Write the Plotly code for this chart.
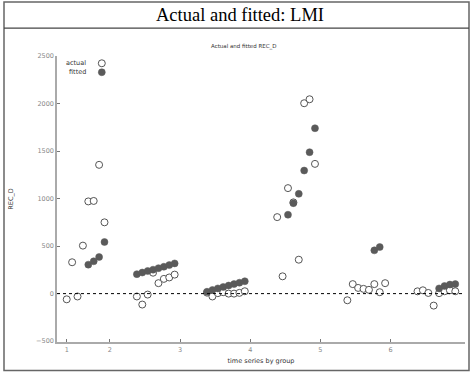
import plotly.graph_objects as go

# ---- data (8 observed periods per group, periods 6..13 of 13) ----
groups = [1, 2, 3, 4, 5, 6]
periods = [6, 7, 8, 9, 10, 11, 12, 13]
period_count = 13

actual = {
    1: [-60, 330, -30, 505, 970, 975, 1355, 750],
    2: [-30, -115, -10, 220, 110, 155, 170, 200],
    3: [10, -30, 5, 15, 0, 0, 8, 25],
    4: [805, 182, 1110, 960, 357, 2003, 2045, 1365],
    5: [-70, 100, 60, 50, 40, 100, 15, 110],
    6: [24, 35, 7, -126, 5, 25, 35, 25],
}
fitted = {
    1: [None, None, None, None, 305, 340, 385, 543],
    2: [205, 222, 238, 252, 268, 283, 300, 318],
    3: [20, 38, 55, 70, 85, 100, 115, 130],
    4: [None, None, 830, 952, 1050, 1295, 1488, 1740],
    5: [None, None, None, None, None, 455, 490, None],
    6: [None, None, None, None, 55, 80, 95, 100],
}
tick_labels = ["1", "2", "3", "4", "5", "6"]
y_ticks = [-500, 0, 500, 1000, 1500, 2000, 2500]

# observation numbers
xs, ya, yf = [], [], []
for g in groups:
    for k, p in enumerate(periods):
        xs.append((g - 1) * period_count + p)
        ya.append(actual[g][k])
        yf.append(fitted[g][k])
tick_vals = [periods[0]] + [(g - 1) * period_count + 1 for g in groups[1:]]

W, H = 473, 376
L, R, T, B = 57, 8, 56, 33.5
PW, PH = W - L - R, H - T - B


def px(x):
    return (x - L) / PW


def py(y):
    return (H - B - y) / PH


gray = "#555555"
fig = go.Figure()
fig.add_trace(go.Scatter(
    x=xs, y=ya, mode="markers", name="actual",
    marker=dict(symbol="circle", size=7, color="white",
                line=dict(color=gray, width=1)),
))
fig.add_trace(go.Scatter(
    x=xs, y=yf, mode="markers", name="fitted",
    marker=dict(symbol="circle", size=7, color="#5a5a5a",
                line=dict(color="#5a5a5a", width=0.5)),
))

axis_font = dict(family="DejaVu Sans", size=6.5, color="#888888")
fig.update_layout(
    width=W, height=H,
    margin=dict(l=L, r=R, t=T, b=B),
    paper_bgcolor="white", plot_bgcolor="white",
    showlegend=False,
    xaxis=dict(
        range=[4.2, 79.8], tickvals=tick_vals, ticktext=tick_labels,
        ticks="inside", ticklen=3, tickcolor="#777777",
        showgrid=False, zeroline=False, showline=True,
        linecolor="#aaaaaa", linewidth=1.5, tickfont=axis_font,
        title=dict(text="time series by group", standoff=6,
                   font=dict(family="DejaVu Sans", size=6.5, color="#333333")),
    ),
    yaxis=dict(
        range=[-509, 2500], tickvals=y_ticks,
        ticks="inside", ticklen=3, tickcolor="#777777",
        showgrid=False, zeroline=False, showline=True,
        linecolor="#aaaaaa", linewidth=1.5, tickfont=axis_font,
        title=dict(text="REC_D", standoff=22,
                   font=dict(family="DejaVu Sans", size=6.5, color="#333333")),
    ),
)

shapes = [
    # zero line
    dict(type="line", xref="paper", yref="y", x0=0, x1=1, y0=0, y1=0,
         line=dict(color="black", width=1, dash="dot")),
    # outer frame
    dict(type="rect", xref="paper", yref="paper", x0=px(4), x1=px(469),
         y0=py(371), y1=py(2), line=dict(color="#666666", width=1.5)),
    # line under title
    dict(type="line", xref="paper", yref="paper", x0=px(4), x1=px(469),
         y0=py(28), y1=py(28), line=dict(color="#444444", width=1.2)),
    # legend markers
    dict(type="circle", xref="paper", yref="paper",
         x0=px(98.3), x1=px(105.3), y0=py(66.8), y1=py(59.8),
         fillcolor="white", line=dict(color=gray, width=1)),
    dict(type="circle", xref="paper", yref="paper",
         x0=px(98.3), x1=px(105.3), y0=py(75.8), y1=py(68.8),
         fillcolor="#5a5a5a", line=dict(color="#5a5a5a", width=0.5)),
]
fig.update_layout(shapes=shapes)

ann = [
    dict(text="Actual and fitted: LMI", xref="paper", yref="paper",
         x=px(240), y=py(15), showarrow=False, xanchor="center", yanchor="middle",
         font=dict(family="Liberation Serif", size=18.5, color="black")),
    dict(text="Actual and fitted REC_D", xref="paper", yref="paper",
         x=px(244), y=py(46), showarrow=False, xanchor="center", yanchor="middle",
         font=dict(family="DejaVu Sans", size=5.5, color="#333333")),
    dict(text="actual", xref="paper", yref="paper",
         x=px(88), y=py(63.5), showarrow=False, xanchor="right", yanchor="middle",
         font=dict(family="DejaVu Sans", size=6.5, color="#333333")),
    dict(text="fitted", xref="paper", yref="paper",
         x=px(88), y=py(72.5), showarrow=False, xanchor="right", yanchor="middle",
         font=dict(family="DejaVu Sans", size=6.5, color="#333333")),
]
fig.update_layout(annotations=ann)

fig.write_html(
    "out.html",
    config={"displayModeBar": False},
    post_script="document.body.style.margin='0px';document.body.style.overflow='hidden';",
)
